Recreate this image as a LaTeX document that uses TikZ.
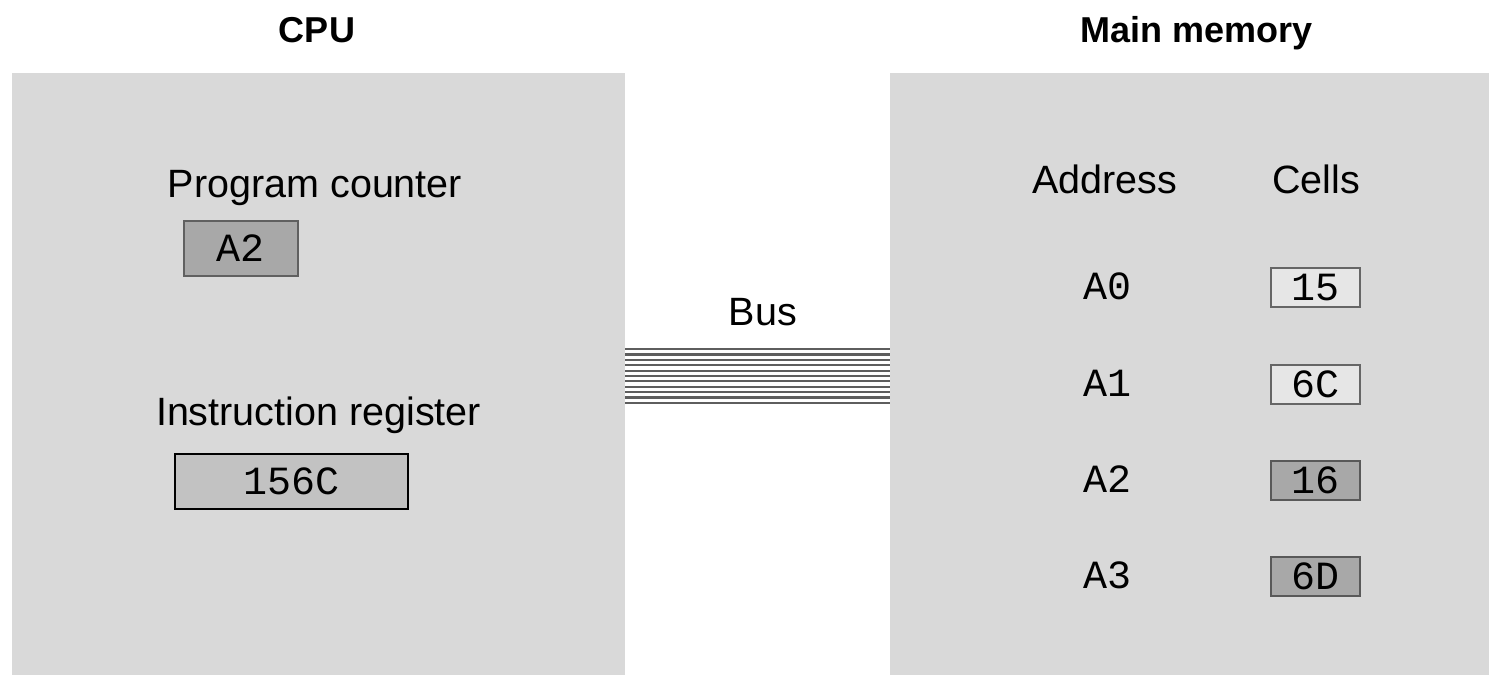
\documentclass[tikz,border=0pt]{standalone}
\usepackage{fontspec}
\usetikzlibrary{calc}
\setmainfont{Liberation Sans}
\newfontfamily\monof{Liberation Mono}
\begin{document}
\begin{tikzpicture}[x=1pt,y=-1pt,
  panel/.style={fill=panelgray,draw=none},
  title/.style={font=\fontsize{36}{40}\selectfont\bfseries,anchor=base,inner sep=0pt},
  lbl/.style={font=\fontsize{39.5}{44}\selectfont,anchor=base,inner sep=0pt},
  mono/.style={font=\monof\fontsize{40}{44}\selectfont},
  monolbl/.style={mono,anchor=base,inner sep=0pt},
  darkcell/.style={draw=gray!70!black,line width=1.2pt,fill=cellgray,minimum width=89pt,minimum height=39pt,inner sep=0pt,mono},
  lightcell/.style={draw=gray!80!black,line width=1.2pt,fill=lightcell,minimum width=89pt,minimum height=39pt,inner sep=0pt,mono},
  busline/.style={draw=busgray,line width=2.3pt}]
\definecolor{panelgray}{HTML}{D9D9D9}
\definecolor{cellgray}{HTML}{A8A8A8}
\definecolor{lightcell}{HTML}{E6E6E6}
\definecolor{irgray}{HTML}{C2C2C2}
\definecolor{busgray}{HTML}{5E5E5E}
\useasboundingbox (0,0) rectangle (1489,675);
\fill[white] (0,0) rectangle (1489,675);
% panels
\path[panel] (12,73) rectangle (625,675);
\path[panel] (890,73) rectangle (1489,675);
% titles
\node[title] (cputitle) at (317,42) {CPU};
\node[title] (memtitle) at (1197,42) {Main memory};
% CPU contents
\node[lbl] (pclabel) at (315,197) {Program counter};
\node[draw=gray!75!black,line width=1.2pt,fill=cellgray,minimum width=114pt,minimum height=55pt,inner sep=0pt,mono] (pc) at (241,248.5) {A2};
\node[lbl] (irlabel) at (318.5,425) {Instruction register};
\node[draw=black,line width=2.5pt,fill=irgray,minimum width=233pt,minimum height=55pt,inner sep=0pt,mono] (ir) at (291.5,481.5) {156C};
% bus
\node[lbl] (buslabel) at (763,325) {Bus};
\coordinate (busL) at (625,349.3);
\coordinate (busR) at (890,349.3);
\foreach \i in {0,...,10}{
  \draw[busline] ($(busL)+(0,5.34*\i)$) -- ($(busR)+(0,5.34*\i)$);
}
% memory
\node[lbl] (addr) at (1105,193) {Address};
\node[lbl] (cells) at (1316,193) {Cells};
\node[monolbl] (a0) at (1107,299.5) {A0};
\node[monolbl] (a1) at (1107,396.5) {A1};
\node[monolbl] (a2) at (1107,492.5) {A2};
\node[monolbl] (a3) at (1107,588.5) {A3};
\node[lightcell] (c0) at (1315.5,287.5) {15};
\node[lightcell] (c1) at (1315.5,384.5) {6C};
\node[darkcell] (c2) at (1315.5,480.5) {16};
\node[darkcell] (c3) at (1315.5,576.5) {6D};
\end{tikzpicture}
\end{document}
